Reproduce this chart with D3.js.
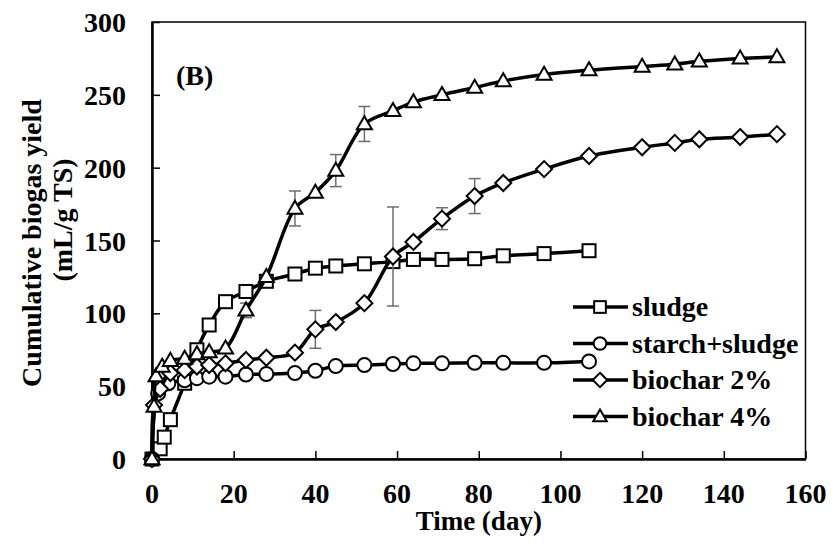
<!DOCTYPE html>
<html>
<head>
<meta charset="utf-8">
<script src="https://cdn.jsdelivr.net/npm/d3@7"></script>
<style>
  html, body { margin: 0; padding: 0; background: #fff; }
  svg { display: block; }
  text { font-family: "Liberation Serif", "Times New Roman", serif; font-weight: bold; fill: #000; }
</style>
</head>
<body>
<svg id="chart" width="835" height="542"></svg>
<script>
// ---- data ----
const sludgeDays   = [0, 2, 3, 4.5, 8, 11, 14, 18, 23, 28, 35, 40, 45, 52, 59, 64, 71, 79, 86, 96, 107];
const sludgeVals   = [0, 7, 15, 27, 52, 75, 92, 108, 115, 122, 127, 131, 132.5, 134, 135.5, 137, 137, 137.5, 139.5, 141, 143];

const starchDays   = [0, 1.5, 4, 8, 11, 14, 18, 23, 28, 35, 40, 45, 52, 59, 64, 71, 79, 86, 96, 107];
const starchVals   = [0, 45, 52, 54, 55.5, 56.5, 56.5, 58, 58.3, 59, 60.6, 63.8, 64.5, 65.2, 65.7, 65.7, 66, 66, 66, 67];

const bio2Days     = [0, 0.5, 2, 4.5, 8, 11, 14, 18, 23, 28, 35, 40, 45, 52, 59, 64, 71, 79, 86, 96, 107, 120, 128, 134, 144, 153];
const bio2Vals     = [0, 37, 48, 59, 61, 63.5, 64.5, 65.7, 68, 69.5, 73, 89, 94, 107, 139, 149, 165, 180.5, 189.5, 199, 208, 214, 217, 219.5, 221, 223];
const bio2ErrDays  = [40, 59, 71, 79];
const bio2Err      = [13, 34, 7.5, 12];

const bio4Days     = [0, 0.5, 1, 2.5, 4.5, 8, 11, 14, 18, 23, 28, 35, 40, 45, 52, 59, 64, 71, 79, 86, 96, 107, 120, 128, 134, 144, 153];
const bio4Vals     = [0, 36, 57, 63.5, 67.5, 69, 72, 73.5, 76, 102, 125, 172, 183, 198, 230, 239, 245, 250, 255, 259.5, 264, 267, 269.5, 271, 273, 275, 276];
const bio4ErrDays  = [23, 35, 45, 52];
const bio4Err      = [5, 12, 11, 12];

const seriesNames  = ["sludge", "starch+sludge", "biochar 2%", "biochar 4%"];
const seriesShapes = ["square", "circle", "diamond", "triangle"];
const xTicks = [0, 20, 40, 60, 80, 100, 120, 140, 160];
const yTicks = [0, 50, 100, 150, 200, 250, 300];
const panelLabel = "(B)";
const xTitle = "Time (day)";
const yTitle1 = "Cumulative biogas yield";
const yTitle2 = "(mL/g TS)";

// ---- build ----
const series = [
  { name: seriesNames[0], shape: seriesShapes[0], pts: sludgeDays.map((d, i) => ({ x: d, y: sludgeVals[i] })), err: [] },
  { name: seriesNames[1], shape: seriesShapes[1], pts: starchDays.map((d, i) => ({ x: d, y: starchVals[i] })), err: [] },
  { name: seriesNames[2], shape: seriesShapes[2], pts: bio2Days.map((d, i) => ({ x: d, y: bio2Vals[i] })),
    err: bio2ErrDays.map((d, i) => ({ x: d, y: bio2Vals[bio2Days.indexOf(d)], e: bio2Err[i] })) },
  { name: seriesNames[3], shape: seriesShapes[3], pts: bio4Days.map((d, i) => ({ x: d, y: bio4Vals[i] })),
    err: bio4ErrDays.map((d, i) => ({ x: d, y: bio4Vals[bio4Days.indexOf(d)], e: bio4Err[i] })) }
];

const svg = d3.select("#chart");
const L = 152, R = 805.5, T = 22, B = 459;
const x = d3.scaleLinear().domain([0, 160]).range([L, R]);
const y = d3.scaleLinear().domain([0, 300]).range([B, T]);

// frame
svg.append("rect").attr("x", L).attr("y", T).attr("width", R - L).attr("height", B - T)
  .attr("fill", "none").attr("stroke", "#000").attr("stroke-width", 1.5);

// axes (ticks inward)
const xAxis = d3.axisBottom(x).tickValues(xTicks).tickSizeInner(-8).tickSizeOuter(0).tickPadding(0).tickFormat("");
const gx = svg.append("g").attr("transform", `translate(0,${B})`).call(xAxis);
gx.select(".domain").attr("stroke-width", 2.5);
gx.selectAll(".tick line").attr("stroke-width", 1.5);
const yAxis = d3.axisLeft(y).tickValues(yTicks).tickSizeInner(-8).tickSizeOuter(0).tickFormat("");
const gy = svg.append("g").attr("transform", `translate(${L},0)`).call(yAxis);
gy.select(".domain").attr("stroke-width", 2.5);
gy.selectAll(".tick line").attr("stroke-width", 1.5);

// tick labels
svg.append("g").selectAll("text").data(xTicks).join("text")
  .attr("x", d => x(d)).attr("y", 503).attr("text-anchor", "middle")
  .attr("font-size", 28).text(d => d);
svg.append("g").selectAll("text").data(yTicks).join("text")
  .attr("x", 126).attr("y", d => y(d) + 10).attr("text-anchor", "end")
  .attr("font-size", 28).text(d => d);

// titles
svg.append("text").attr("x", (L + R) / 2).attr("y", 530).attr("text-anchor", "middle")
  .attr("font-size", 27).text(xTitle);
svg.append("text").attr("transform", "translate(41,243) rotate(-90)").attr("text-anchor", "middle")
  .attr("font-size", 28).text(yTitle1);
svg.append("text").attr("transform", "translate(72,220) rotate(-90)").attr("text-anchor", "middle")
  .attr("font-size", 28).text(yTitle2);
svg.append("text").attr("x", 176).attr("y", 85).attr("font-size", 28).text(panelLabel);

// marker drawing
function drawMarker(g, shape, cx, cy, s) {
  const st = { fill: "#fff", stroke: "#000", "stroke-width": 2 };
  let el;
  if (shape === "square") {
    el = g.append("rect").attr("x", cx - 6.5 * s).attr("y", cy - 6.5 * s).attr("width", 13 * s).attr("height", 13 * s);
  } else if (shape === "circle") {
    el = g.append("circle").attr("cx", cx).attr("cy", cy).attr("r", 7 * s);
  } else if (shape === "diamond") {
    const r = 8 * s;
    el = g.append("path").attr("d", `M${cx},${cy - r}L${cx + r},${cy}L${cx},${cy + r}L${cx - r},${cy}Z`);
  } else {
    const w = 7.5 * s, h = 13 * s;
    el = g.append("path").attr("d", `M${cx},${cy - h * 0.6}L${cx + w},${cy + h * 0.4}L${cx - w},${cy + h * 0.4}Z`);
  }
  Object.entries(st).forEach(([k, v]) => el.attr(k, v));
}

const line = d3.line().x(d => x(d.x)).y(d => y(d.y)).curve(d3.curveCatmullRom.alpha(0.5));

series.forEach(s => {
  const g = svg.append("g");
  // error bars
  s.err.forEach(e => {
    const eg = g.append("g").attr("stroke", "#6e6e6e").attr("stroke-width", 1.5);
    eg.append("line").attr("x1", x(e.x)).attr("x2", x(e.x)).attr("y1", y(e.y + e.e)).attr("y2", y(e.y - e.e));
    eg.append("line").attr("x1", x(e.x) - 6).attr("x2", x(e.x) + 6).attr("y1", y(e.y + e.e)).attr("y2", y(e.y + e.e));
    eg.append("line").attr("x1", x(e.x) - 6).attr("x2", x(e.x) + 6).attr("y1", y(e.y - e.e)).attr("y2", y(e.y - e.e));
  });
  g.append("path").datum(s.pts).attr("d", line).attr("fill", "none").attr("stroke", "#000").attr("stroke-width", 3.5);
  s.pts.forEach(p => drawMarker(g, s.shape, x(p.x), y(p.y), 1));
});

// legend
const legY = [307, 343.5, 380, 416.5];
series.forEach((s, i) => {
  const g = svg.append("g");
  g.append("line").attr("x1", 573).attr("x2", 628).attr("y1", legY[i]).attr("y2", legY[i])
    .attr("stroke", "#000").attr("stroke-width", 3.5);
  drawMarker(g, s.shape, 600, legY[i], 0.9);
  g.append("text").attr("x", 632).attr("y", legY[i] + 9).attr("font-size", 28).text(s.name);
});
</script>
</body>
</html>
